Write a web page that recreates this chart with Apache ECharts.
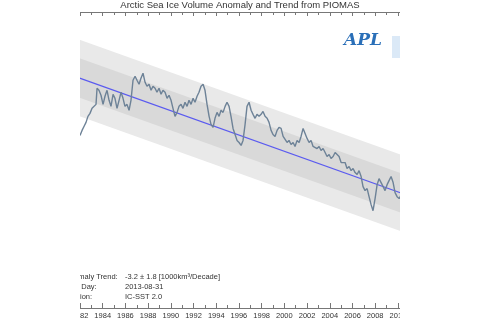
<!DOCTYPE html>
<html><head><meta charset="utf-8">
<script src="https://cdn.jsdelivr.net/npm/echarts@6/dist/echarts.min.js"></script>
<style>html,body{margin:0;padding:0;background:#fff}#c{width:480px;height:320px}</style>
</head><body><div id="c"></div>
<script>
// ---- data ----
const tickYears = [1980,1982,1984,1986,1988,1990,1992,1994,1996,1998,2000,2002,2004,2006,2008,2010,2012];
const trendYears = [1980, 2012];
const trendValues = [5.29, -5.24];       // 1000 km^3
const sigma1 = 1.6;                      // inner band half-width
const sigma2 = 3.1;                      // outer band half-width
const anomYears = [1982.00,1982.18,1982.35,1982.53,1982.70,1982.88,1983.06,1983.23,1983.41,1983.50,1983.67,1983.85,1984.03,1984.20,1984.38,1984.56,1984.73,1984.91,1985.08,1985.26,1985.44,1985.61,1985.79,1985.96,1986.14,1986.32,1986.49,1986.67,1986.85,1987.02,1987.20,1987.37,1987.55,1987.73,1987.90,1988.08,1988.26,1988.43,1988.61,1988.78,1988.96,1989.14,1989.31,1989.49,1989.67,1989.84,1990.02,1990.19,1990.37,1990.55,1990.72,1990.90,1991.07,1991.25,1991.43,1991.60,1991.78,1991.96,1992.13,1992.31,1992.48,1992.66,1992.84,1993.01,1993.19,1993.37,1993.54,1993.72,1993.89,1994.07,1994.25,1994.42,1994.60,1994.78,1994.95,1995.13,1995.30,1995.48,1995.66,1995.83,1996.01,1996.19,1996.36,1996.54,1996.71,1996.89,1997.07,1997.24,1997.42,1997.59,1997.77,1997.95,1998.12,1998.30,1998.48,1998.65,1998.83,1999.00,1999.18,1999.36,1999.53,1999.71,1999.89,2000.06,2000.24,2000.41,2000.59,2000.77,2000.94,2001.12,2001.30,2001.47,2001.65,2001.82,2002.00,2002.18,2002.35,2002.53,2002.70,2002.88,2003.06,2003.23,2003.41,2003.59,2003.76,2003.94,2004.11,2004.29,2004.47,2004.64,2004.82,2005.00,2005.17,2005.35,2005.52,2005.70,2005.88,2006.05,2006.23,2006.41,2006.58,2006.76,2006.93,2007.11,2007.29,2007.46,2007.64,2007.81,2007.99,2008.17,2008.34,2008.52,2008.70,2008.87,2009.05,2009.22,2009.40,2009.58,2009.75,2009.93,2010.11,2010.30];
const anomValues = [-0.01,0.40,0.72,1.05,1.54,1.78,2.19,2.03,2.51,3.82,3.65,3.25,2.51,3.17,3.65,2.84,2.35,3.33,3.00,2.19,2.84,3.49,3.00,2.35,2.51,2.03,2.84,4.47,4.79,4.47,4.14,4.63,5.04,4.30,3.98,4.14,3.65,3.98,3.82,3.49,3.82,3.33,3.65,3.49,3.00,3.25,2.84,2.19,1.54,1.86,2.35,2.51,2.19,2.68,2.35,2.84,2.51,3.00,2.68,3.17,3.49,3.98,4.14,3.65,2.51,1.54,0.89,0.64,1.38,1.86,1.54,2.03,1.86,2.35,2.68,2.35,1.54,0.56,0.07,-0.41,-0.58,-0.82,-0.41,0.89,2.35,2.68,2.03,1.70,1.38,1.70,1.54,1.70,1.94,1.54,1.38,1.05,0.40,0.07,-0.09,0.40,0.64,0.56,-0.09,-0.25,-0.58,-0.41,-0.74,-0.58,-0.90,-0.41,-0.58,-0.09,0.56,0.40,-0.25,-0.58,-0.41,-0.90,-0.74,-1.07,-0.90,-1.23,-1.07,-1.39,-1.72,-1.55,-1.88,-1.72,-1.39,-1.23,-1.72,-2.21,-2.37,-2.21,-2.69,-2.53,-2.86,-2.69,-3.02,-3.18,-2.86,-3.34,-4.16,-4.48,-4.32,-4.97,-5.62,-6.11,-5.13,-4.00,-3.51,-3.83,-4.16,-4.48,-4.00,-3.67,-3.34,-3.83,-4.65,-4.97,-5.13,-4.81];
const titleText = 'Arctic Sea Ice Volume Anomaly and Trend from PIOMAS';
const infoLabels = ['Anomaly Trend:', 'Last Day:', 'Version:'];
const infoValues = ['-3.2 ± 1.8 [1000km³/Decade]', '2013-08-31', 'IC-SST 2.0'];

// ---- build ----
const pair = (xs, ys) => xs.map((x, i) => [x, ys[i]]);
const shifted = d => pair(trendYears, trendValues.map(v => v + d));
const FONT = 'Liberation Sans, Arial, sans-serif';
const bandArea = (d, color) => ({
  type: 'line', data: shifted(d), symbol: 'none', silent: true,
  lineStyle: {width: 0}, areaStyle: {color: color, opacity: 1, origin: 'start'}, z: 1
});

const chart = echarts.init(document.getElementById('c'), null, {renderer: 'canvas'});
const infoGraphics = [];
infoLabels.forEach((t, i) => {
  infoGraphics.push({type: 'text', x: 65, y: 277 + i * 10, z: 5,
    style: {text: t, fill: '#333', font: '7.5px ' + FONT, textVerticalAlign: 'middle'}});
  infoGraphics.push({type: 'text', x: 125, y: 277 + i * 10, z: 5,
    style: {text: infoValues[i], fill: '#333', font: '7.5px ' + FONT, textVerticalAlign: 'middle'}});
});

const axisCommon = {
  type: 'value', min: 1980, max: 2012, interval: 2, z: 10,
  axisLine: {show: true, onZero: false, lineStyle: {color: '#777', width: 1}},
  minorTick: {show: true, splitNumber: 2, length: 3, lineStyle: {color: '#777'}},
  splitLine: {show: false}
};

chart.setOption({
  animation: false,
  title: {text: titleText, left: 'center', top: 0, padding: 0,
    textStyle: {fontSize: 9.5, fontWeight: 'normal', color: '#333', fontFamily: FONT}},
  grid: {left: 57.3, right: 59.4, top: 12, bottom: 12},
  xAxis: [
    Object.assign({}, axisCommon, {position: 'bottom',
      axisTick: {show: true, inside: true, length: 5, lineStyle: {color: '#777'}},
      axisLabel: {show: true, margin: 4, fontSize: 7.5, color: '#333', fontFamily: FONT,
        formatter: v => tickYears.includes(v) ? String(v) : ''}}),
    Object.assign({}, axisCommon, {position: 'top',
      axisTick: {show: true, inside: true, length: 4, lineStyle: {color: '#777'}},
      axisLabel: {show: false}})
  ],
  yAxis: {type: 'value', min: -14, max: 10, show: false, splitLine: {show: false}},
  series: [
    bandArea(sigma2, '#e9e9e9'),
    bandArea(sigma1, '#d9d9d9'),
    bandArea(-sigma1, '#e9e9e9'),
    bandArea(-sigma2, '#ffffff'),
    {type: 'line', data: pair(trendYears, trendValues), symbol: 'none',
     lineStyle: {color: '#5a5af0', width: 1.2}, z: 4},
    {type: 'line', data: pair(anomYears, anomValues), symbol: 'none',
     lineStyle: {color: '#6d8297', width: 1.4}, z: 5}
  ],
  graphic: infoGraphics.concat([
    {type: 'rect', left: 0, top: 0, z: 100, shape: {width: 80, height: 320}, style: {fill: '#fff'}},
    {type: 'rect', left: 400, top: 0, z: 100, shape: {width: 80, height: 320}, style: {fill: '#fff'}},
    {type: 'text', x: 363, y: 41, z: 101,
     style: {text: 'APL', fill: '#2a6fb8', font: 'italic bold 17px DejaVu Serif, serif',
       textAlign: 'center', textVerticalAlign: 'middle'}},
    {type: 'rect', left: 392, top: 36, z: 101, shape: {width: 8, height: 22},
     style: {fill: '#dbe9f7'}}
  ])
});
</script></body></html>
